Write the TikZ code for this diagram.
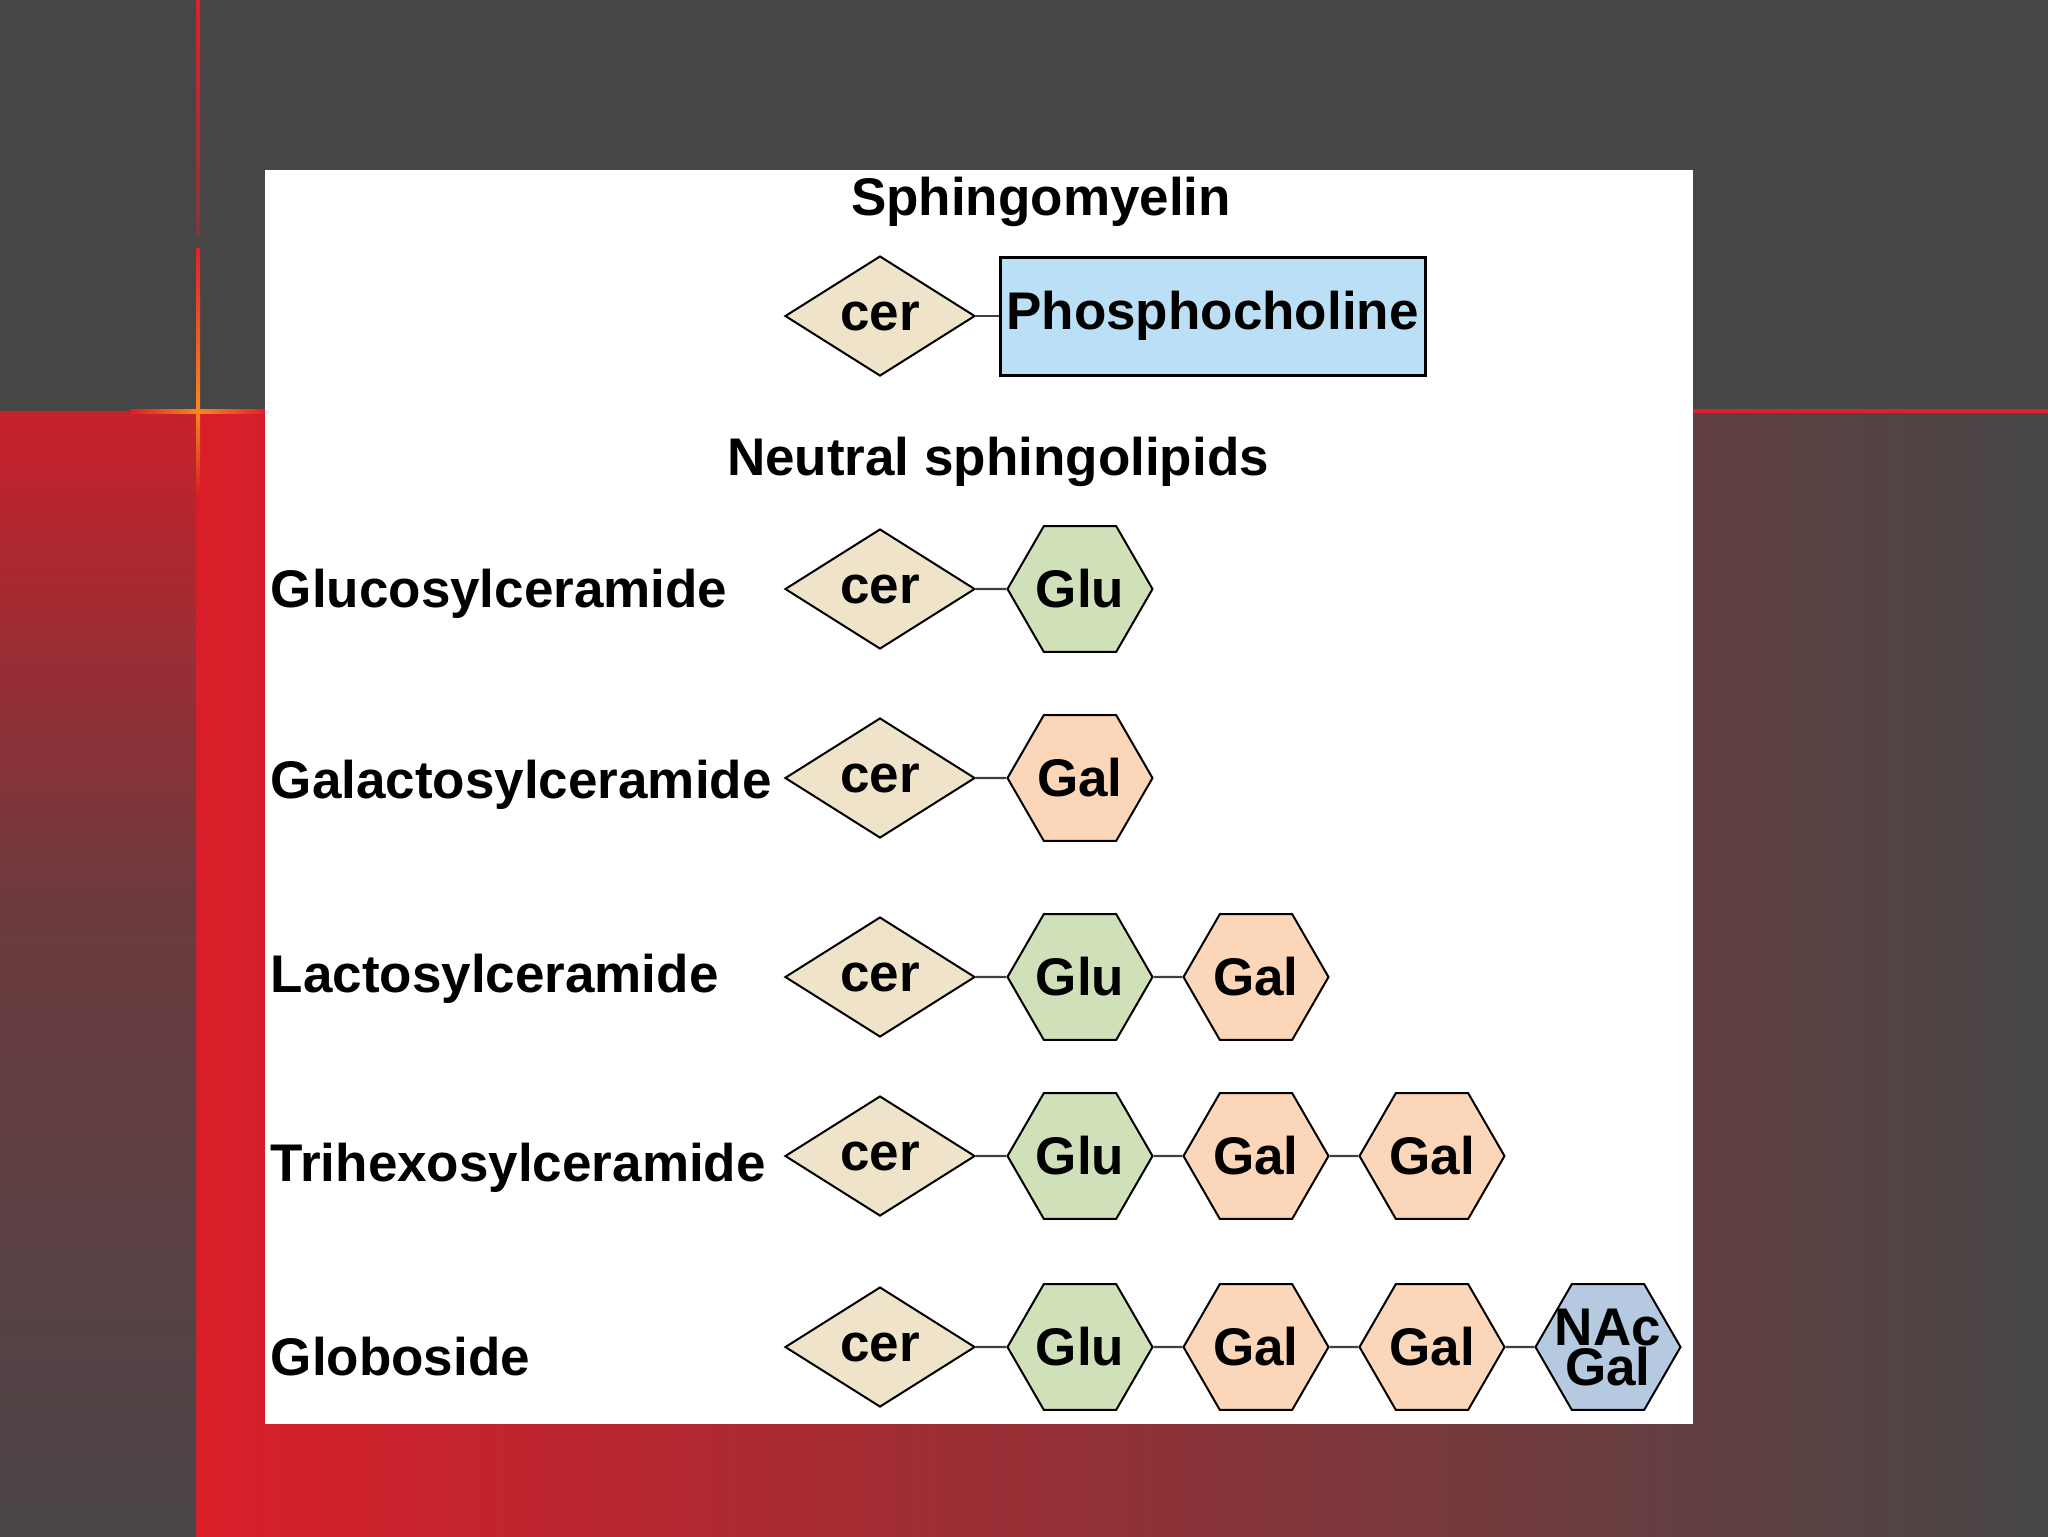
\documentclass[tikz,border=0pt]{standalone}
\usepackage{fontspec}
\setmainfont{Liberation Sans}
\usetikzlibrary{shapes.geometric}

\definecolor{slidegray}{HTML}{464646}
\definecolor{slidered}{HTML}{D91E29}
\definecolor{stripred}{HTML}{C8212B}
\definecolor{stripmid}{HTML}{6C3A3E}
\definecolor{stripgray}{HTML}{4A4547}
\definecolor{glowred}{HTML}{E0202E}
\definecolor{gloworange}{HTML}{F7891F}
\definecolor{cerfill}{HTML}{EFE3C9}
\definecolor{glufill}{HTML}{D0E1BA}
\definecolor{galfill}{HTML}{FCD6B8}
\definecolor{nacfill}{HTML}{B5C9E0}
\definecolor{phosfill}{HTML}{BBDFF4}

\begin{document}
\begin{tikzpicture}[x=0.25pt, y=-0.25pt,
  every node/.style={font=\fontsize{13.25}{16}\selectfont\bfseries},
  cerbox/.style={draw, line width=0.5pt, diamond, fill=cerfill, inner sep=0pt,
    minimum width=47.5pt, minimum height=30pt},
  sugar/.style={draw, line width=0.5pt, regular polygon, regular polygon sides=6,
    inner sep=0pt, minimum size=36.25pt},
  glubox/.style={sugar, fill=glufill},
  galbox/.style={sugar, fill=galfill},
  nacbox/.style={sugar, fill=nacfill, inner sep=-4pt, align=center,
    font=\fontsize{13.25}{10}\selectfont\bfseries},
  phosbox/.style={draw, line width=0.75pt, fill=phosfill, inner sep=0pt,
    minimum width=106.25pt, minimum height=29.5pt},
  link/.style={line width=0.6pt, black!75},
  lipid/.style={anchor=base west, inner sep=0pt}]
  \useasboundingbox (0,0) rectangle (2048,1536);

  % slide background
  \fill[slidegray] (0,0) rectangle (2048,411);
  \shade[left color=slidered, right color=slidegray] (196,411) rectangle (2048,1536);
  \shade[top color=stripred, bottom color=stripmid] (0,411) rectangle (196,900);
  \shade[top color=stripmid, bottom color=stripgray] (0,899) rectangle (196,1536);
  \shade[top color=glowred, bottom color=glowred!35!slidegray] (196,0) rectangle (200,235);
  \shade[top color=glowred, bottom color=gloworange] (196,248) rectangle (200,411);
  \shade[top color=gloworange, bottom color=slidered] (196,411) rectangle (200,495);
  \shade[left color=slidered, right color=gloworange] (130,409) rectangle (198,413);
  \shade[left color=gloworange, right color=glowred] (198,409) rectangle (265,413);
  \fill[glowred] (1693,409) rectangle (2048,413);
  \fill[white] (265,170) rectangle (1693,1424);

  % headings
  \node[anchor=base] (sphingo) at (1041,215) {Sphingomyelin};
  \node[anchor=base] (neutral) at (998,475) {Neutral sphingolipids};

  % sphingomyelin
  \node[cerbox] (cer0) at (880,316) {cer};
  \node[phosbox] (phos) at (1212.5,316) {Phosphocholine};
  \draw[link] (cer0) -- (phos);

  % glucosylceramide
  \node[lipid] (glucosyl) at (270,607) {Glucosylceramide};
  \node[cerbox] (cer1) at (880,589) {cer};
  \node[glubox] (glu1) at (1080,589) {Glu};
  \draw[link] (cer1) -- (glu1);

  % galactosylceramide
  \node[lipid] (galactosyl) at (270,798) {Galactosylceramide};
  \node[cerbox] (cer2) at (880,778) {cer};
  \node[galbox] (gal2) at (1080,778) {Gal};
  \draw[link] (cer2) -- (gal2);

  % lactosylceramide
  \node[lipid] (lactosyl) at (270,992) {Lactosylceramide};
  \node[cerbox] (cer3) at (880,977) {cer};
  \node[glubox] (glu3) at (1080,977) {Glu};
  \node[galbox] (gal3) at (1256,977) {Gal};
  \draw[link] (cer3) -- (glu3) (glu3) -- (gal3);

  % trihexosylceramide
  \node[lipid] (trihexosyl) at (270,1181) {Trihexosylceramide};
  \node[cerbox] (cer4) at (880,1156) {cer};
  \node[glubox] (glu4) at (1080,1156) {Glu};
  \node[galbox] (gal4a) at (1256,1156) {Gal};
  \node[galbox] (gal4b) at (1432,1156) {Gal};
  \draw[link] (cer4) -- (glu4) (glu4) -- (gal4a) (gal4a) -- (gal4b);

  % globoside
  \node[lipid] (globoside) at (270,1375) {Globoside};
  \node[cerbox] (cer5) at (880,1347) {cer};
  \node[glubox] (glu5) at (1080,1347) {Glu};
  \node[galbox] (gal5a) at (1256,1347) {Gal};
  \node[galbox] (gal5b) at (1432,1347) {Gal};
  \node[nacbox] (nac5) at (1608,1347) {NAc\\Gal};
  \draw[link] (cer5) -- (glu5) (glu5) -- (gal5a) (gal5a) -- (gal5b) (gal5b) -- (nac5);
\end{tikzpicture}
\end{document}
